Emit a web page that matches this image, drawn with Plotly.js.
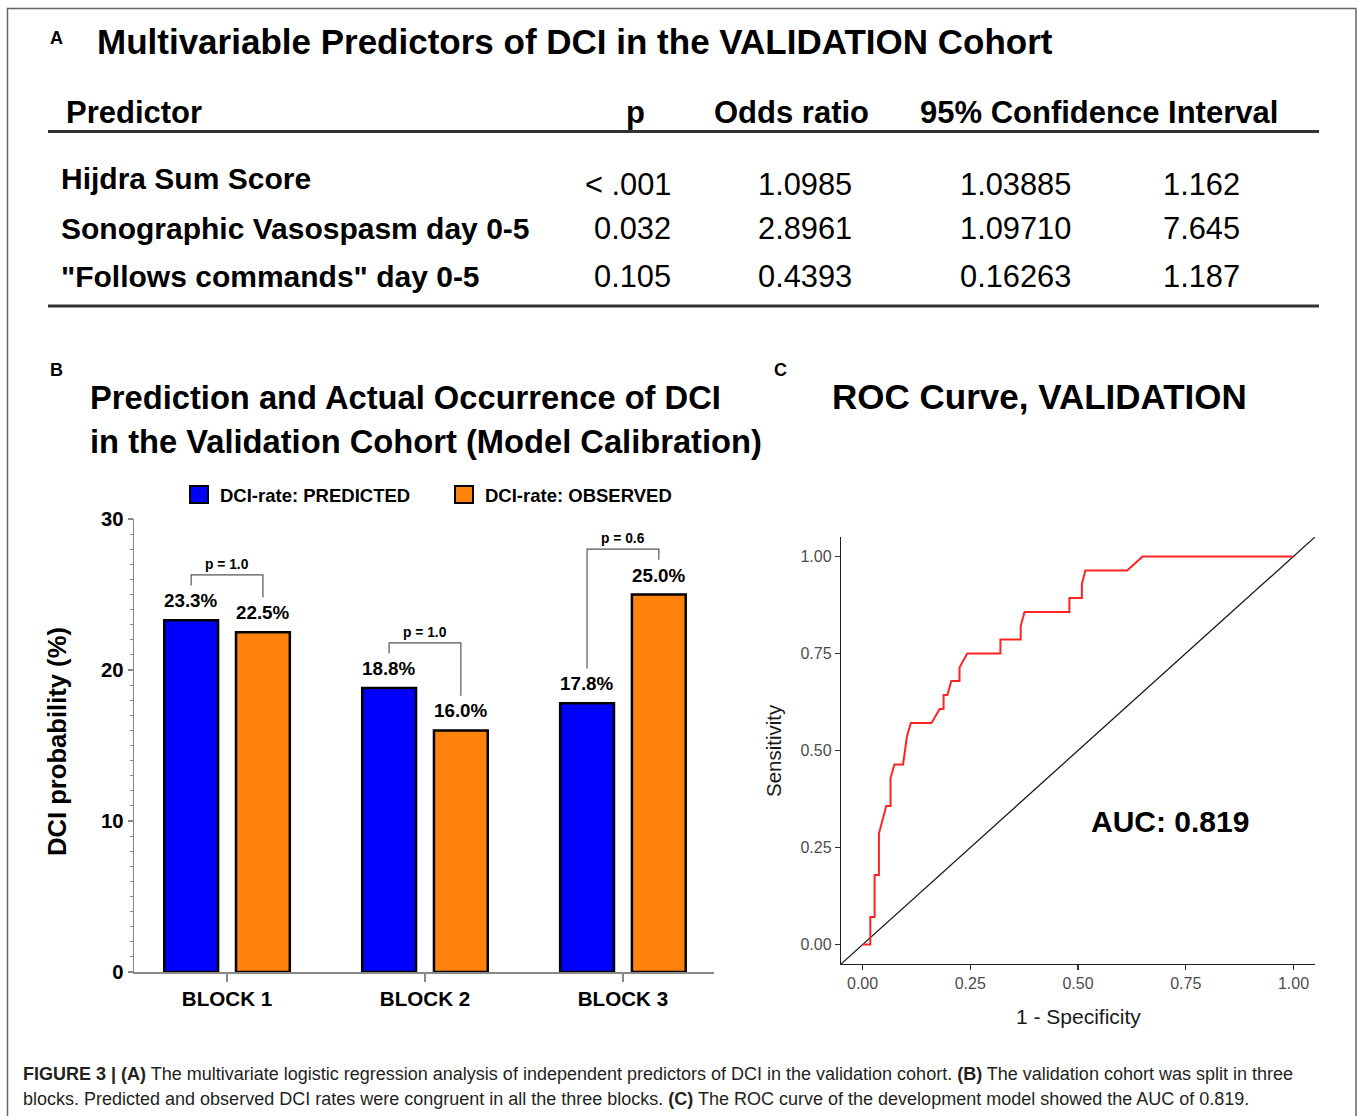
<!DOCTYPE html>
<html>
<head>
<meta charset="utf-8">
<script src="https://cdn.plot.ly/plotly-3.0.1.min.js"></script>
<style>
  html, body { margin: 0; padding: 0; background: #ffffff; }
  #chart { width: 1358px; height: 1116px; }
</style>
</head>
<body>
<div id="chart"></div>
<script>
// ---------------- DATA ----------------
// Panel A: table
const tableHeaders = ['Predictor', 'p', 'Odds ratio', '95% Confidence Interval'];
const predictors = ['Hijdra Sum Score', 'Sonographic Vasospasm day 0-5', '"Follows commands" day 0-5'];
const pValuesTable = ['< .001', '0.032', '0.105'];
const oddsRatios = ['1.0985', '2.8961', '0.4393'];
const ciLower = ['1.03885', '1.09710', '0.16263'];
const ciUpper = ['1.162', '7.645', '1.187'];

// Panel B: calibration bars
const blocks = ['BLOCK 1', 'BLOCK 2', 'BLOCK 3'];
const predictedRate = [23.3, 18.8, 17.8];
const observedRate = [22.5, 16.0, 25.0];
const blockPValues = ['p = 1.0', 'p = 1.0', 'p = 0.6'];
const seriesNames = ['DCI-rate: PREDICTED', 'DCI-rate: OBSERVED'];
const seriesColors = ['#0000ff', '#ff820f'];

// Panel C: ROC curve (1 - specificity, sensitivity)
const rocFpr = [0, 0.018, 0.018, 0.028, 0.028, 0.038, 0.038, 0.055, 0.065, 0.065, 0.074, 0.094, 0.103, 0.112, 0.160, 0.179, 0.188, 0.188, 0.197, 0.206, 0.225, 0.225, 0.243, 0.320, 0.320, 0.367, 0.367, 0.376, 0.480, 0.480, 0.509, 0.509, 0.517, 0.614, 0.650, 1.0];
const rocTpr = [0, 0, 0.071, 0.071, 0.179, 0.179, 0.286, 0.357, 0.357, 0.429, 0.464, 0.464, 0.536, 0.571, 0.571, 0.607, 0.607, 0.643, 0.643, 0.679, 0.679, 0.714, 0.750, 0.750, 0.786, 0.786, 0.821, 0.857, 0.857, 0.893, 0.893, 0.929, 0.964, 0.964, 1.0, 1.0];
const rocRange = [-0.05, 1.05];
const rocTicks = [0, 0.25, 0.5, 0.75, 1.0];
const aucValue = 0.819;

// ---------------- HELPERS ----------------
const W = 1358, H = 1116;
const X = p => p / W;
const Y = p => 1 - p / H;
const FONT = '"Liberation Sans", Arial, sans-serif';

function txt(text, x, y, o) {
  o = o || {};
  return {
    text: text, x: X(x), y: Y(y), xref: 'paper', yref: 'paper',
    xanchor: o.xanchor || 'left', yanchor: o.yanchor || 'middle',
    showarrow: false, textangle: o.angle || 0, align: o.align || 'left',
    font: { family: FONT, size: o.size || 20, color: o.color || '#000000', weight: o.bold ? 'bold' : 'normal' }
  };
}

const annotations = [];
const shapes = [];

// Outer border
shapes.push({ type: 'rect', xref: 'paper', yref: 'paper', x0: X(7.5), x1: X(1356), y0: Y(1125), y1: Y(8.5), line: { color: '#666666', width: 1.5 } });

// ---------------- PANEL A ----------------
annotations.push(txt('A', 57, 38, { xanchor: 'center', bold: true, size: 18 }));
annotations.push(txt('Multivariable Predictors of DCI in the VALIDATION Cohort', 95, 42, { bold: true, size: 35 }));
annotations.push(txt(tableHeaders[0], 64, 112, { bold: true, size: 31 }));
annotations.push(txt(tableHeaders[1], 635, 112, { bold: true, size: 31, xanchor: 'center' }));
annotations.push(txt(tableHeaders[2], 791, 112, { bold: true, size: 31, xanchor: 'center' }));
annotations.push(txt(tableHeaders[3], 1099, 112, { bold: true, size: 31, xanchor: 'center' }));
shapes.push({ type: 'line', xref: 'paper', yref: 'paper', x0: X(48), x1: X(1319), y0: Y(131.5), y1: Y(131.5), line: { color: '#333333', width: 3 } });
shapes.push({ type: 'line', xref: 'paper', yref: 'paper', x0: X(48), x1: X(1319), y0: Y(306), y1: Y(306), line: { color: '#333333', width: 3 } });
const rowLabelY = [179, 228, 276];
const rowNumY = [184, 228, 276];
predictors.forEach((p, i) => {
  annotations.push(txt(p, 59, rowLabelY[i], { bold: true, size: 30 }));
  annotations.push(txt(pValuesTable[i], 673, rowNumY[i], { size: 30.8, xanchor: 'right' }));
  annotations.push(txt(oddsRatios[i], 854, rowNumY[i], { size: 30.8, xanchor: 'right' }));
  annotations.push(txt(ciLower[i], 1073, rowNumY[i], { size: 30.8, xanchor: 'right' }));
  annotations.push(txt(ciUpper[i], 1242, rowNumY[i], { size: 30.8, xanchor: 'right' }));
});

// ---------------- PANEL B ----------------
annotations.push(txt('B', 57, 370, { xanchor: 'center', bold: true, size: 18 }));
annotations.push(txt('Prediction and Actual Occurrence of DCI', 88, 397, { bold: true, size: 32.7 }));
annotations.push(txt('in the Validation Cohort (Model Calibration)', 88, 441, { bold: true, size: 32.7 }));
// manual legend
const legendBoxX = [190, 455];
const legendTextX = [218, 483];
seriesNames.forEach((n, i) => {
  shapes.push({ type: 'rect', xref: 'paper', yref: 'paper', x0: X(legendBoxX[i]), x1: X(legendBoxX[i] + 18), y0: Y(503), y1: Y(486), fillcolor: seriesColors[i], line: { color: '#000000', width: 2 } });
  annotations.push(txt(n, legendTextX[i], 495, { bold: true, size: 18.5 }));
});
annotations.push(txt('DCI probability (%)', 57, 741, { bold: true, size: 25.6, angle: -90, xanchor: 'center' }));

const bargap = 0.275, bargroupgap = 0.25;
const off = (1 - bargap) / 4;
const labelPad = 2.3, bracketRise = 0.7;
blocks.forEach((b, i) => {
  const vals = [predictedRate[i], observedRate[i]];
  const xs = [i - off, i + off];
  vals.forEach((v, k) => {
    annotations.push({ text: v.toFixed(1) + '%', x: xs[k], y: v, xref: 'x', yref: 'y', xanchor: 'center', yanchor: 'bottom', yshift: 7, showarrow: false,
      font: { family: FONT, size: 18.8, weight: 'bold', color: '#000000' } });
  });
  const yl = vals[0] + labelPad, yr = vals[1] + labelPad;
  const top = Math.max(yl, yr) + bracketRise;
  shapes.push({ type: 'path', xref: 'x', yref: 'y', path: `M ${xs[0]},${yl} L ${xs[0]},${top} L ${xs[1]},${top} L ${xs[1]},${yr}`, line: { color: '#555555', width: 1.2 } });
  annotations.push({ text: blockPValues[i], x: i, y: top, xref: 'x', yref: 'y', xanchor: 'center', yanchor: 'bottom', yshift: 1, showarrow: false,
    font: { family: FONT, size: 13.8, weight: 'bold', color: '#000000' } });
});

// ---------------- PANEL C ----------------
annotations.push(txt('C', 781, 370, { xanchor: 'center', bold: true, size: 18 }));
annotations.push(txt('ROC Curve, VALIDATION', 830, 396, { bold: true, size: 35 }));
annotations.push(txt('Sensitivity', 773, 751, { size: 20.5, angle: -90, xanchor: 'center', color: '#1a1a1a' }));
annotations.push(txt('1 - Specificity', 1078, 1016, { size: 21, xanchor: 'center', color: '#1a1a1a' }));
annotations.push(txt('AUC: ' + aucValue.toFixed(3), 1170, 821, { size: 30, bold: true, xanchor: 'center' }));

// ---------------- CAPTION ----------------
annotations.push(txt('<b>FIGURE 3 | (A)</b> The multivariate logistic regression analysis of independent predictors of DCI in the validation cohort. <b>(B)</b> The validation cohort was split in three', 21, 1074, { size: 18, color: '#231f20' }));
annotations.push(txt('blocks. Predicted and observed DCI rates were congruent in all the three blocks. <b>(C)</b> The ROC curve of the development model showed the AUC of 0.819.', 21, 1099, { size: 18, color: '#231f20' }));

// ---------------- TRACES ----------------
const traces = [
  { type: 'bar', name: seriesNames[0], x: blocks, y: predictedRate, xaxis: 'x', yaxis: 'y',
    marker: { color: seriesColors[0], line: { color: '#000000', width: 2.5 } }, showlegend: false, hoverinfo: 'x+y' },
  { type: 'bar', name: seriesNames[1], x: blocks, y: observedRate, xaxis: 'x', yaxis: 'y',
    marker: { color: seriesColors[1], line: { color: '#000000', width: 2.5 } }, showlegend: false, hoverinfo: 'x+y' },
  { type: 'scatter', mode: 'lines', name: 'Reference', x: rocRange, y: rocRange, xaxis: 'x2', yaxis: 'y2',
    line: { color: '#1a1a1a', width: 1.3 }, showlegend: false, hoverinfo: 'skip' },
  { type: 'scatter', mode: 'lines', name: 'ROC', x: rocFpr, y: rocTpr, xaxis: 'x2', yaxis: 'y2',
    line: { color: '#ff2424', width: 2 }, showlegend: false }
];

const layout = {
  width: W, height: H,
  margin: { l: 0, r: 0, t: 0, b: 0 },
  paper_bgcolor: '#ffffff', plot_bgcolor: 'rgba(0,0,0,0)',
  showlegend: false,
  barmode: 'group', bargap: bargap, bargroupgap: bargroupgap,
  xaxis: {
    domain: [X(134), X(714)], anchor: 'y', type: 'category', range: [-0.47, 2.46],
    showline: true, linecolor: '#888888', linewidth: 1.5,
    ticks: 'outside', ticklen: 8, tickwidth: 1.2, tickcolor: '#888888',
    tickfont: { family: FONT, size: 20.6, weight: 'bold', color: '#000000' },
    showgrid: false, zeroline: false, fixedrange: true
  },
  yaxis: {
    domain: [Y(972), Y(519)], anchor: 'x', range: [0, 30], tick0: 0, dtick: 10,
    showline: true, linecolor: '#888888', linewidth: 1.5,
    ticks: 'outside', ticklen: 5, tickwidth: 1.2, tickcolor: '#888888',
    minor: { dtick: 1, ticks: 'outside', ticklen: 3, tickwidth: 1, tickcolor: '#888888', showgrid: false },
    tickfont: { family: FONT, size: 20.3, weight: 'bold', color: '#000000' },
    showgrid: false, zeroline: false, fixedrange: true
  },
  xaxis2: {
    domain: [X(841), X(1315)], anchor: 'y2', range: rocRange,
    tickmode: 'array', tickvals: rocTicks, tickformat: '.2f',
    showline: true, linecolor: '#222222', linewidth: 1.2,
    ticks: 'outside', ticklen: 5, tickwidth: 1.2, tickcolor: '#333333',
    tickfont: { family: FONT, size: 16, color: '#4d4d4d' },
    showgrid: false, zeroline: false, fixedrange: true
  },
  yaxis2: {
    domain: [Y(964), Y(537)], anchor: 'x2', range: rocRange,
    tickmode: 'array', tickvals: rocTicks, tickformat: '.2f',
    showline: true, linecolor: '#222222', linewidth: 1.2,
    ticks: 'outside', ticklen: 5, tickwidth: 1.2, tickcolor: '#333333',
    tickfont: { family: FONT, size: 16, color: '#4d4d4d' },
    showgrid: false, zeroline: false, fixedrange: true
  },
  annotations: annotations,
  shapes: shapes
};

Plotly.newPlot('chart', traces, layout, { displayModeBar: false, staticPlot: true });
</script>
</body>
</html>
